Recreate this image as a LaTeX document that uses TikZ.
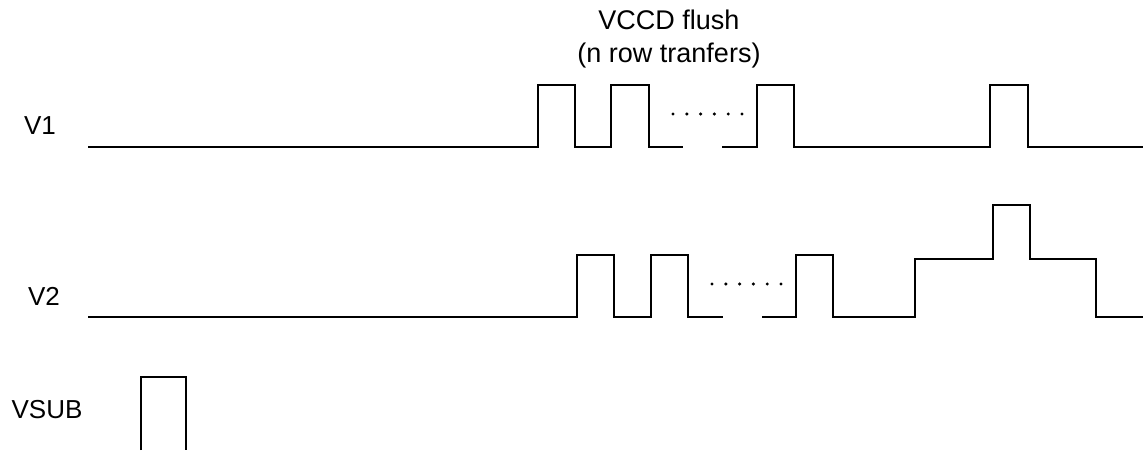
\documentclass[tikz,border=0pt]{standalone}
\usepackage{fontspec}
\setmainfont{Liberation Sans}
\begin{document}
\begin{tikzpicture}[x=1pt,y=-1pt,
  sig/.style={line width=1.2pt, line join=miter},
  lbl/.style={inner sep=0pt, font=\fontsize{26}{26}\selectfont},
  dot/.style={circle, fill=black, inner sep=0pt, minimum size=3.4pt}]
\useasboundingbox (0,0) rectangle (1143,450);
% labels
\node[lbl] (v1) at (40,126) {V1};
\node[lbl] (v2) at (44,296) {V2};
\node[lbl] (vsub) at (47,410) {VSUB};
\node[lbl, align=center, font=\fontsize{27}{33}\selectfont] (title) at (669,39) {VCCD flush\\(n row tranfers)};
% V1
\draw[sig] (88,147) -- (538,147) -- (538,85) -- (575,85) -- (575,147) -- (611,147) -- (611,85) -- (649,85) -- (649,147) -- (683,147);
\draw[sig] (722,147) -- (757,147) -- (757,85) -- (794,85) -- (794,147) -- (990,147) -- (990,85) -- (1028,85) -- (1028,147) -- (1143,147);
\foreach \i in {0,...,5} \node[dot] (d1\i) at (673+13.8*\i,114) {};
% V2
\draw[sig] (88,317) -- (577,317) -- (577,255) -- (614,255) -- (614,317) -- (651,317) -- (651,255) -- (688,255) -- (688,317) -- (723,317);
\draw[sig] (762,317) -- (796,317) -- (796,255) -- (833,255) -- (833,317) -- (915,317) -- (915,259) -- (993,259) -- (993,205) -- (1030,205) -- (1030,259) -- (1096,259) -- (1096,317) -- (1143,317);
\foreach \i in {0,...,5} \node[dot] (d2\i) at (712+13.8*\i,284) {};
% VSUB
\draw[sig] (141,450) -- (141,377) -- (186,377) -- (186,450);
\end{tikzpicture}
\end{document}
